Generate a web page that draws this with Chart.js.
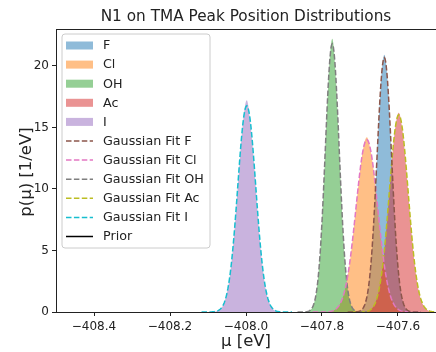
<!DOCTYPE html>
<html>
<head>
<meta charset="utf-8">
<script src="https://cdn.jsdelivr.net/npm/chart.js@4.4.1/dist/chart.umd.min.js"></script>
<style>
  html, body { margin: 0; padding: 0; background: #fff; }
</style>
</head>
<body>
<canvas id="peakChart" width="436" height="352"></canvas>
<script>
/* Peak position posteriors for N1 on TMA, one histogram per ligand plus its Gaussian fit */

const ligands = ['F', 'Cl', 'OH', 'Ac', 'I'];
const histColors = ['rgba(31,119,180,0.5)', 'rgba(255,127,14,0.5)', 'rgba(44,160,44,0.5)',
                    'rgba(214,39,40,0.5)', 'rgba(148,103,189,0.5)'];
const fitColors = ['#8c564b', '#e377c2', '#7f7f7f', '#bcbd22', '#17becf'];

// histogram bins (density, 1/eV), 0.01 eV wide, first bin centre in binStart
const binWidth = 0.01;
const binStart = [-407.736, -407.782, -407.873, -407.698, -408.098];
const histF  = [0, 0, 0, 0.03, 0.16, 0.72, 2.4, 6.2, 12.1, 18.1, 20.9, 18.2, 12.0, 6.2, 2.43, 0.71, 0.16, 0.03, 0, 0, 0];
const histCl = [0.03, 0.10, 0.27, 0.69, 1.53, 3.0, 5.2, 8.1, 10.9, 13.2, 14.2, 13.1, 11.0, 8.0, 5.25, 3.0, 1.52, 0.69, 0.27, 0.10, 0.03];
const histOH = [0, 0, 0, 0.01, 0.10, 0.52, 2.0, 5.7, 12.0, 18.8, 22.2, 18.7, 12.1, 5.6, 2.0, 0.53, 0.10, 0.01, 0, 0, 0];
const histAc = [0, 0.02, 0.09, 0.31, 0.88, 2.13, 4.4, 7.7, 11.6, 14.8, 16.2, 14.7, 11.6, 7.8, 4.4, 2.12, 0.88, 0.31, 0.09, 0.02, 0];
const histI  = [0, 0.01, 0.06, 0.22, 0.70, 1.86, 4.05, 7.6, 11.7, 15.4, 17.2, 15.2, 11.8, 7.5, 4.1, 1.82, 0.71, 0.21, 0.06, 0.01, 0];
const histValues = [histF, histCl, histOH, histAc, histI];

// fitted normal parameters (eV)
const fitMean  = [-407.636, -407.682, -407.773, -407.598, -407.998];
const fitSigma = [0.0193, 0.0285, 0.0183, 0.0249, 0.0238];

const xTicks = [-408.4, -408.2, -408.0, -407.8, -407.6];
const yTicks = [0, 5, 10, 15, 20];

const FONT = '"DejaVu Sans", "Liberation Sans", sans-serif';
const INK = '#222';

function histPoints(k) {
    return histValues[k].map((y, i) => ({ x: binStart[k] + i * binWidth, y: y }));
}

function fitPoints(k) {
    const m = fitMean[k], s = fitSigma[k], n = 120, pts = [];
    for (let i = 0; i <= n; i++) {
        const x = m - 5 * s + (10 * s * i) / n;
        const z = (x - m) / s;
        pts.push({ x: x, y: Math.exp(-0.5 * z * z) / (s * Math.sqrt(2 * Math.PI)) });
    }
    return pts;
}

const datasets = [];
ligands.forEach((name, k) => {
    datasets.push({
        label: name,
        data: histPoints(k),
        backgroundColor: histColors[k],
        borderWidth: 0,
        fill: 'origin',
        pointRadius: 0,
        cubicInterpolationMode: 'monotone',
        order: 5 - k
    });
});
ligands.forEach((name, k) => {
    datasets.push({
        label: 'Gaussian Fit ' + name,
        data: fitPoints(k),
        borderColor: fitColors[k],
        borderWidth: 1.5,
        borderDash: [5.5, 2.4],
        fill: false,
        pointRadius: 0,
        order: 0
    });
});
datasets.push({ label: 'Prior', data: [], borderColor: '#000', borderWidth: 1.5, fill: false, pointRadius: 0, order: 0 });

// legend box drawn inside the axes, upper left
function drawLegend(chart) {
    const ctx = chart.ctx;
    const x0 = 62, y0 = 34, w = 148, h = 214, r = 3;
    const rowStart = 45.5, rowStep = 19.1;
    ctx.save();
    ctx.beginPath();
    ctx.moveTo(x0 + r, y0);
    ctx.arcTo(x0 + w, y0, x0 + w, y0 + h, r);
    ctx.arcTo(x0 + w, y0 + h, x0, y0 + h, r);
    ctx.arcTo(x0, y0 + h, x0, y0, r);
    ctx.arcTo(x0, y0, x0 + w, y0, r);
    ctx.closePath();
    ctx.fillStyle = 'rgba(255,255,255,0.8)';
    ctx.fill();
    ctx.strokeStyle = '#cccccc';
    ctx.lineWidth = 1;
    ctx.stroke();

    ctx.font = '12.7px ' + FONT;
    ctx.textBaseline = 'middle';
    ctx.textAlign = 'left';
    chart.data.datasets.forEach((ds, i) => {
        const cy = rowStart + i * rowStep;
        if (ds.fill) {
            ctx.fillStyle = ds.backgroundColor;
            ctx.fillRect(66, cy - 4, 27, 8);
        } else {
            ctx.strokeStyle = ds.borderColor;
            ctx.lineWidth = ds.borderWidth;
            ctx.setLineDash(ds.borderDash || []);
            ctx.beginPath();
            ctx.moveTo(66, cy);
            ctx.lineTo(93, cy);
            ctx.stroke();
            ctx.setLineDash([]);
        }
        ctx.fillStyle = INK;
        ctx.fillText(ds.label, 103, cy + 0.5);
    });
    ctx.restore();
}

const frameAndTitles = {
    id: 'frameAndTitles',
    afterDraw(chart) {
        const ctx = chart.ctx, a = chart.chartArea;
        ctx.save();
        ctx.strokeStyle = INK;
        ctx.lineWidth = 1;
        ctx.beginPath();
        ctx.moveTo(a.left, a.top + 0.5);
        ctx.lineTo(a.right, a.top + 0.5);
        ctx.stroke();

        ctx.fillStyle = INK;
        ctx.textAlign = 'center';
        ctx.textBaseline = 'middle';
        ctx.font = '15.3px ' + FONT;
        ctx.fillText('N1 on TMA Peak Position Distributions', (a.left + a.right) / 2, 17);
        ctx.font = '16.5px ' + FONT;
        ctx.fillText('μ [eV]', (a.left + a.right) / 2, 342);
        ctx.translate(27, 172);
        ctx.rotate(-Math.PI / 2);
        ctx.fillText('p(μ) [1/eV]', 0, 0);
        ctx.restore();

        drawLegend(chart);
    }
};

const ctx = document.getElementById('peakChart').getContext('2d');
new Chart(ctx, {
    type: 'line',
    data: { datasets: datasets },
    options: {
        responsive: false,
        animation: false,
        layout: { padding: { top: 29, left: 0, right: 0, bottom: 0 } },
        plugins: {
            legend: { display: false },
            title: { display: false },
            tooltip: { enabled: false }
        },
        scales: {
            x: {
                type: 'linear',
                min: -408.5,
                max: -407.5,
                afterBuildTicks: scale => { scale.ticks = xTicks.map(v => ({ value: v })); },
                afterFit: scale => { scale.height = 40; },
                ticks: {
                    padding: 4,
                    color: INK,
                    font: { family: FONT, size: 12 },
                    maxRotation: 0,
                    callback: v => (v < 0 ? '\u2212' : '') + Math.abs(v).toFixed(1)
                },
                grid: { drawOnChartArea: false, drawTicks: true, tickLength: 4, tickColor: INK },
                border: { display: true, color: INK, width: 1 }
            },
            y: {
                min: 0,
                max: 23,
                afterBuildTicks: scale => { scale.ticks = yTicks.map(v => ({ value: v })); },
                afterFit: scale => { scale.width = 56; },
                ticks: {
                    padding: 3,
                    color: INK,
                    font: { family: FONT, size: 12 },
                    callback: v => String(v)
                },
                grid: { drawOnChartArea: false, drawTicks: true, tickLength: 4, tickColor: INK },
                border: { display: true, color: INK, width: 1 }
            }
        }
    },
    plugins: [frameAndTitles]
});
</script>
</body>
</html>
